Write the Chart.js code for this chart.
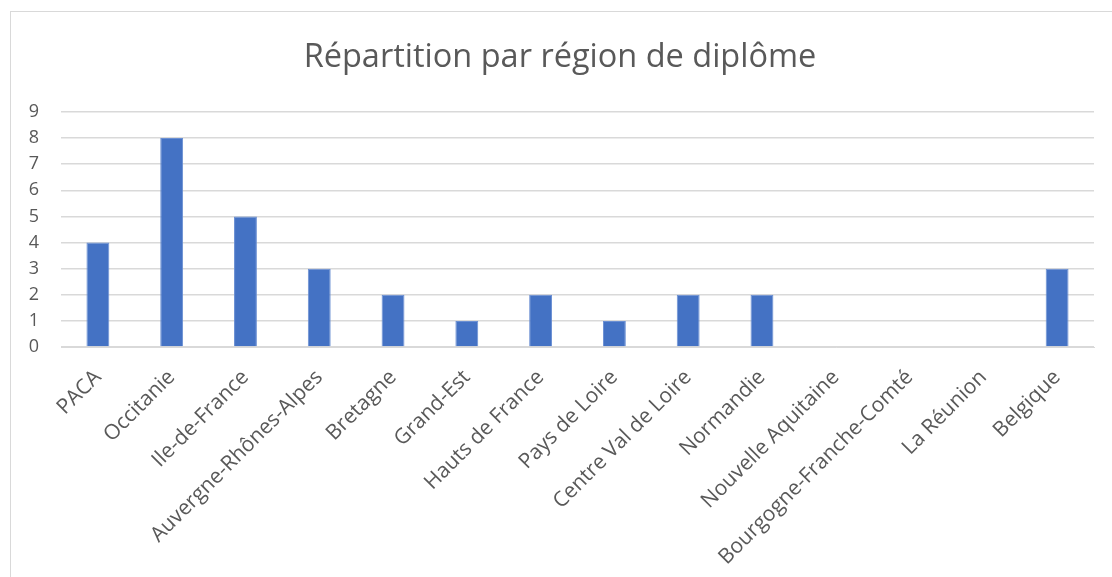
<!DOCTYPE html>
<html>
<head>
<meta charset="utf-8">
<script src="https://cdn.jsdelivr.net/npm/chart.js@4"></script>
<style>
  html, body { margin: 0; padding: 0; background: #fff; overflow: hidden; }
  #wrap { position: relative; width: 1112px; height: 577px; }
  #frame { position: absolute; left: 10px; top: 11px; width: 1200px; height: 700px;
           border: 1px solid #d9d9d9; box-sizing: border-box; }
  #chart { position: absolute; left: 0; top: 0; }
</style>
</head>
<body>
<div id="wrap">
  <div id="frame"></div>
  <canvas id="chart" width="1112" height="577"></canvas>
</div>
<script>
const categories = [
  'PACA', 'Occitanie', 'Ile-de-France', 'Auvergne-Rhônes-Alpes', 'Bretagne',
  'Grand-Est', 'Hauts de France', 'Pays de Loire', 'Centre Val de Loire',
  'Normandie', 'Nouvelle Aquitaine', 'Bourgogne-Franche-Comté', 'La Réunion', 'Belgique'
];
const counts = [4, 8, 5, 3, 2, 1, 2, 1, 2, 2, 0, 0, 0, 3];
const yMin = 0;
const yMax = 9;

const TEXT = '#595959';
const GRID = '#d9d9d9';
const FONT = '"Open Sans", "Noto Sans", sans-serif';

const ctx = document.getElementById('chart').getContext('2d');
new Chart(ctx, {
  type: 'bar',
  data: {
    labels: categories,
    datasets: [{
      label: 'Nombre',
      data: counts,
      backgroundColor: '#4472c4',
      borderColor: '#6a8fd3',
      borderWidth: 1,
      categoryPercentage: 1,
      barPercentage: 0.31
    }]
  },
  options: {
    responsive: false,
    animation: false,
    // left padding nudges the title towards the original centre
    layout: { padding: { left: 26, right: 18, top: 0, bottom: 0 } },
    plugins: {
      legend: { display: false },
      tooltip: { enabled: false },
      title: {
        display: true,
        text: 'Répartition par région de diplôme',
        color: TEXT,
        font: { family: FONT, size: 32.5, weight: 'normal' },
        padding: { top: 38, bottom: 35 }
      }
    },
    scales: {
      x: {
        grid: { display: false },
        border: { color: GRID },
        ticks: {
          color: TEXT,
          font: { family: FONT, size: 21 },
          minRotation: 45,
          maxRotation: 45,
          autoSkip: false,
          padding: 10
        },
        afterFit: (scale) => { scale.height = 230; }
      },
      y: {
        min: yMin,
        max: yMax,
        grid: { color: GRID, lineWidth: 1.5, drawTicks: false },
        border: { display: false },
        ticks: {
          stepSize: 1,
          autoSkip: false,
          color: TEXT,
          font: { family: FONT, size: 18 },
          padding: 22
        },
        afterFit: (scale) => { scale.width = 35; }
      }
    }
  }
});
</script>
</body>
</html>
